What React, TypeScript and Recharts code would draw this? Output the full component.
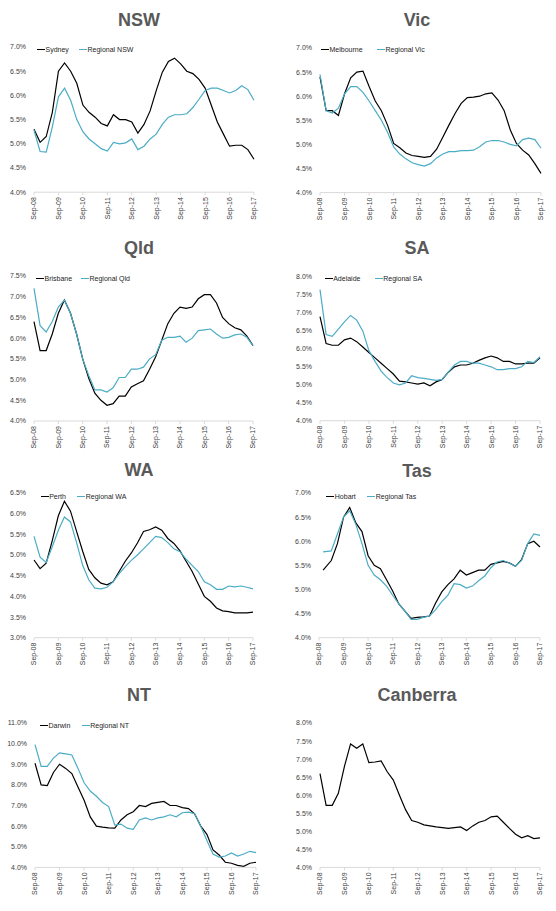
import React from 'react';
import { LineChart, Line, XAxis, YAxis, Legend } from 'recharts';

const quarterMonths = [0, 3, 6, 9, 12, 15, 18, 21, 24, 27, 30, 33, 36, 39, 42, 45, 48, 51, 54, 57, 60, 63, 66, 69, 72, 75, 78, 81, 84, 87, 90, 93, 96, 99, 102, 105, 108];
const tasMonths = [2, 6, 9, 12, 15, 18, 21, 24, 27, 30, 33, 36, 39, 42, 45, 48, 51, 54, 57, 60, 63, 66, 69, 72, 75, 78, 81, 84, 87, 90, 93, 96, 99, 102, 105, 108];
const yearTickMonths = [0, 12, 24, 36, 48, 60, 72, 84, 96, 108];
const yearTickLabels = ['Sep-08', 'Sep-09', 'Sep-10', 'Sep-11', 'Sep-12', 'Sep-13', 'Sep-14', 'Sep-15', 'Sep-16', 'Sep-17'];

const sydney = [5.3, 5.03, 5.15, 5.65, 6.5, 6.67, 6.5, 6.25, 5.8, 5.65, 5.55, 5.42, 5.37, 5.6, 5.5, 5.5, 5.45, 5.22, 5.4, 5.68, 6.1, 6.48, 6.7, 6.77, 6.65, 6.5, 6.45, 6.33, 6.15, 5.8, 5.45, 5.2, 4.95, 4.97, 4.97, 4.88, 4.68];
const regionalNSW = [5.28, 4.84, 4.83, 5.35, 5.97, 6.15, 5.9, 5.5, 5.25, 5.1, 5.0, 4.9, 4.85, 5.03, 5.0, 5.02, 5.1, 4.88, 4.95, 5.1, 5.2, 5.4, 5.55, 5.6, 5.6, 5.62, 5.75, 5.92, 6.1, 6.15, 6.15, 6.1, 6.05, 6.1, 6.2, 6.12, 5.9];

const melbourne = [6.4, 5.7, 5.7, 5.6, 6.05, 6.38, 6.5, 6.52, 6.2, 5.9, 5.7, 5.4, 5.02, 4.93, 4.82, 4.77, 4.75, 4.73, 4.75, 4.9, 5.15, 5.4, 5.64, 5.85, 5.97, 5.98, 6.0, 6.05, 6.07, 5.92, 5.7, 5.3, 5.02, 4.88, 4.78, 4.6, 4.4];
const regionalVic = [6.45, 5.7, 5.65, 5.75, 6.05, 6.2, 6.2, 6.08, 5.9, 5.7, 5.5, 5.25, 4.95, 4.8, 4.7, 4.62, 4.58, 4.55, 4.6, 4.72, 4.8, 4.85, 4.85, 4.87, 4.87, 4.88, 4.95, 5.05, 5.08, 5.08, 5.05, 5.0, 4.97, 5.1, 5.13, 5.1, 4.92];

const brisbane = [6.4, 5.7, 5.7, 6.1, 6.6, 6.92, 6.6, 6.1, 5.5, 5.03, 4.67, 4.5, 4.38, 4.42, 4.6, 4.6, 4.82, 4.9, 4.97, 5.25, 5.55, 5.95, 6.35, 6.6, 6.75, 6.72, 6.75, 6.95, 7.05, 7.05, 6.85, 6.5, 6.35, 6.25, 6.2, 6.05, 5.82];
const regionalQld = [7.2, 6.3, 6.15, 6.4, 6.75, 6.92, 6.6, 6.1, 5.5, 5.1, 4.75, 4.75, 4.7, 4.8, 5.05, 5.05, 5.25, 5.25, 5.3, 5.5, 5.6, 5.95, 6.02, 6.02, 6.05, 5.9, 6.0, 6.18, 6.2, 6.22, 6.1, 6.0, 6.02, 6.08, 6.1, 6.02, 5.82];

const adelaide = [6.9, 6.15, 6.1, 6.1, 6.25, 6.3, 6.2, 6.05, 5.9, 5.75, 5.6, 5.45, 5.3, 5.1, 5.08, 5.05, 5.02, 5.05, 4.97, 5.08, 5.15, 5.35, 5.5, 5.55, 5.55, 5.6, 5.68, 5.75, 5.8, 5.75, 5.65, 5.65, 5.58, 5.58, 5.6, 5.6, 5.75];
const regionalSA = [7.65, 6.4, 6.35, 6.55, 6.75, 6.93, 6.8, 6.5, 5.95, 5.65, 5.38, 5.2, 5.05, 5.0, 5.05, 5.25, 5.2, 5.18, 5.15, 5.12, 5.15, 5.35, 5.55, 5.65, 5.65, 5.6, 5.6, 5.55, 5.5, 5.42, 5.42, 5.45, 5.45, 5.5, 5.65, 5.62, 5.78];

const perth = [4.88, 4.67, 4.8, 5.35, 5.95, 6.3, 6.06, 5.57, 5.09, 4.65, 4.45, 4.32, 4.28, 4.35, 4.6, 4.85, 5.05, 5.29, 5.57, 5.61, 5.68, 5.6, 5.4, 5.28, 5.1, 4.85, 4.6, 4.3, 4.0, 3.88, 3.72, 3.65, 3.63, 3.6, 3.6, 3.6, 3.62];
const regionalWA = [5.45, 4.95, 4.82, 5.2, 5.6, 5.92, 5.8, 5.3, 4.75, 4.4, 4.2, 4.18, 4.22, 4.35, 4.55, 4.72, 4.87, 5.0, 5.15, 5.3, 5.45, 5.42, 5.3, 5.15, 5.08, 4.9, 4.75, 4.6, 4.35, 4.28, 4.17, 4.17, 4.25, 4.23, 4.25, 4.22, 4.18];

const hobart = [5.4, 5.6, 5.95, 6.5, 6.7, 6.38, 6.2, 5.7, 5.5, 5.43, 5.2, 4.97, 4.7, 4.55, 4.4, 4.42, 4.43, 4.45, 4.72, 4.95, 5.1, 5.22, 5.4, 5.3, 5.35, 5.4, 5.4, 5.52, 5.55, 5.58, 5.55, 5.48, 5.62, 5.95, 6.0, 5.88];
const regionalTas = [5.78, 5.8, 6.15, 6.5, 6.63, 6.35, 5.95, 5.5, 5.3, 5.2, 5.07, 4.88, 4.7, 4.55, 4.38, 4.38, 4.42, 4.45, 4.58, 4.75, 4.88, 5.12, 5.1, 5.03, 5.07, 5.18, 5.28, 5.45, 5.57, 5.6, 5.55, 5.48, 5.6, 5.95, 6.15, 6.12];

const darwin = [9.05, 8.0, 7.97, 8.6, 9.0, 8.8, 8.55, 7.9, 7.25, 6.45, 6.0, 5.95, 5.92, 5.9, 6.3, 6.55, 6.7, 7.0, 6.95, 7.1, 7.15, 7.2, 7.0, 7.0, 6.9, 6.85, 6.6, 6.0, 5.6, 4.85, 4.6, 4.25, 4.2, 4.1, 4.05, 4.2, 4.25];
const regionalNT = [9.95, 8.9, 8.9, 9.3, 9.55, 9.5, 9.45, 8.8, 8.1, 7.7, 7.45, 7.15, 6.95, 6.05, 6.1, 5.9, 5.85, 6.3, 6.4, 6.3, 6.4, 6.45, 6.55, 6.45, 6.65, 6.68, 6.6, 6.0, 5.3, 4.65, 4.5, 4.55, 4.7, 4.55, 4.65, 4.78, 4.72];

const canberra = [6.6, 5.72, 5.72, 6.05, 6.8, 7.42, 7.3, 7.42, 6.9, 6.92, 6.95, 6.65, 6.42, 6.0, 5.6, 5.3, 5.25, 5.18, 5.15, 5.12, 5.1, 5.08, 5.1, 5.12, 5.02, 5.15, 5.25, 5.3, 5.4, 5.42, 5.25, 5.08, 4.92, 4.82, 4.88, 4.8, 4.82];

const ticksHalf4to7 = [4.0, 4.5, 5.0, 5.5, 6.0, 6.5, 7.0];
const ticksHalf4to75 = [4.0, 4.5, 5.0, 5.5, 6.0, 6.5, 7.0, 7.5];
const ticksHalf4to8 = [4.0, 4.5, 5.0, 5.5, 6.0, 6.5, 7.0, 7.5, 8.0];
const ticksHalf3to65 = [3.0, 3.5, 4.0, 4.5, 5.0, 5.5, 6.0, 6.5];
const ticksOne4to11 = [4.0, 5.0, 6.0, 7.0, 8.0, 9.0, 10.0, 11.0];

const BLACK = '#000000';
const BLUE = '#4BACC6';
const FONT = '"Liberation Sans", Arial, sans-serif';

type Series = { name: string; values: number[]; color: string };
type PanelSpec = {
  title: string;
  left: number;
  titleY: number;
  plotTop: number;
  plotBottom: number;
  plotLeft: number;
  plotRight: number;
  months: number[];
  series: Series[];
  yTicks: number[];
  legendX?: number;
  legendY?: number;
  legendGap?: number;
};

const panels: PanelSpec[] = [
  { title: 'NSW', left: 0, titleY: 19.3, plotTop: 46.5, plotBottom: 191.7, plotLeft: 34, plotRight: 254, months: quarterMonths,
    series: [{ name: 'Sydney', values: sydney, color: BLACK }, { name: 'Regional NSW', values: regionalNSW, color: BLUE }],
    yTicks: ticksHalf4to7, legendX: 37, legendY: 49.3, legendGap: 42 },
  { title: 'Vic', left: 278, titleY: 20, plotTop: 47.7, plotBottom: 192.3, plotLeft: 320, plotRight: 541, months: quarterMonths,
    series: [{ name: 'Melbourne', values: melbourne, color: BLACK }, { name: 'Regional Vic', values: regionalVic, color: BLUE }],
    yTicks: ticksHalf4to7, legendX: 321, legendY: 50, legendGap: 56 },
  { title: 'Qld', left: 0, titleY: 247.7, plotTop: 276, plotBottom: 421, plotLeft: 34, plotRight: 253, months: quarterMonths,
    series: [{ name: 'Brisbane', values: brisbane, color: BLACK }, { name: 'Regional Qld', values: regionalQld, color: BLUE }],
    yTicks: ticksHalf4to75, legendX: 36, legendY: 278.3, legendGap: 45 },
  { title: 'SA', left: 278, titleY: 248, plotTop: 277.3, plotBottom: 421, plotLeft: 320, plotRight: 540, months: quarterMonths,
    series: [{ name: 'Adelaide', values: adelaide, color: BLACK }, { name: 'Regional SA', values: regionalSA, color: BLUE }],
    yTicks: ticksHalf4to8, legendX: 324.7, legendY: 278.3, legendGap: 50 },
  { title: 'WA', left: 0, titleY: 470, plotTop: 493.3, plotBottom: 638, plotLeft: 34, plotRight: 253, months: quarterMonths,
    series: [{ name: 'Perth', values: perth, color: BLACK }, { name: 'Regional WA', values: regionalWA, color: BLUE }],
    yTicks: ticksHalf3to65, legendX: 40.7, legendY: 496.7, legendGap: 36.6 },
  { title: 'Tas', left: 278, titleY: 471, plotTop: 493.3, plotBottom: 638, plotLeft: 319, plotRight: 540, months: tasMonths,
    series: [{ name: 'Hobart', values: hobart, color: BLACK }, { name: 'Regional Tas', values: regionalTas, color: BLUE }],
    yTicks: ticksHalf4to7, legendX: 326.3, legendY: 496.7, legendGap: 41 },
  { title: 'NT', left: 0, titleY: 695, plotTop: 723.3, plotBottom: 867.7, plotLeft: 35, plotRight: 256, months: quarterMonths,
    series: [{ name: 'Darwin', values: darwin, color: BLACK }, { name: 'Regional NT', values: regionalNT, color: BLUE }],
    yTicks: ticksOne4to11, legendX: 40, legendY: 725.7, legendGap: 41.7 },
  { title: 'Canberra', left: 278, titleY: 695, plotTop: 723.3, plotBottom: 867.7, plotLeft: 320, plotRight: 540, months: quarterMonths,
    series: [{ name: 'Canberra', values: canberra, color: BLACK }],
    yTicks: ticksHalf4to8 },
];

const RotTick = (props: any) => {
  const { x, y, payload } = props;
  const idx = yearTickMonths.indexOf(payload.value);
  return (
    <g transform={`translate(${x},${y})`}>
      <text transform="rotate(-90)" textAnchor="end" dy="0.35em" fontSize={7} fill="#404040" fontFamily={FONT}>
        {yearTickLabels[idx]}
      </text>
    </g>
  );
};

const makeLegend = (series: Series[], gap: number) => () => (
  <div style={{ position: 'relative', height: 10, fontSize: 7, fontFamily: FONT, color: '#262626' }}>
    {series.map((s, i) => (
      <span key={s.name} style={{ position: 'absolute', left: i * gap, top: 0, height: 10, display: 'flex', alignItems: 'center', whiteSpace: 'nowrap' }}>
        <span style={{ display: 'inline-block', width: 8, height: 0, borderTop: `1.2px solid ${s.color}`, marginRight: 0.5 }} />
        {s.name}
      </span>
    ))}
  </div>
);

function Panel({ p }: { p: PanelSpec }) {
  const marginTop = 6;
  const xAxisH = 32;
  const yW = p.plotLeft - p.left;
  const mRight = p.left + 278 - p.plotRight;
  const h = marginTop + (p.plotBottom - p.plotTop) + xAxisH;
  const chartTop = p.plotTop - marginTop;
  const rows = p.months.map((m, i) => {
    const r: any = { m };
    p.series.forEach((s, j) => { r['s' + j] = s.values[i]; });
    return r;
  });
  const yMin = p.yTicks[0];
  const yMax = p.yTicks[p.yTicks.length - 1];
  return (
    <>
      <div style={{ position: 'absolute', left: p.left, top: p.titleY - 8.8, width: 278, textAlign: 'center', fontFamily: FONT, fontWeight: 'bold', fontSize: 18, lineHeight: '18px', color: '#595959' }}>
        {p.title}
      </div>
      <div style={{ position: 'absolute', left: p.left, top: chartTop }}>
        <LineChart width={278} height={h} data={rows} margin={{ top: marginTop, right: mRight, bottom: 0, left: 0 }}>
          <XAxis type="number" dataKey="m" domain={[0, 108]} ticks={yearTickMonths} interval={0}
            tick={RotTick} tickLine={{ stroke: '#d9d9d9' }} axisLine={{ stroke: '#d9d9d9' }} tickSize={3} tickMargin={2} height={xAxisH} />
          <YAxis type="number" domain={[yMin, yMax]} ticks={p.yTicks} interval={0} axisLine={false} tickLine={false}
            tickSize={0} tickMargin={8} width={yW}
            tick={{ fontSize: 7, fill: '#404040', fontFamily: FONT }}
            tickFormatter={(v: number) => v.toFixed(1) + '%'} />
          {p.legendX !== undefined && (
            <Legend layout="horizontal" verticalAlign="middle" align="center"
              content={makeLegend(p.series, p.legendGap || 40)}
              wrapperStyle={{ left: (p.legendX as number) - p.left, top: (p.legendY as number) - chartTop - 5, width: 200, height: 10 }} />
          )}
          {p.series.map((s, j) => (
            <Line key={s.name} type="linear" dataKey={'s' + j} name={s.name} stroke={s.color} strokeWidth={1.2}
              dot={false} activeDot={false} isAnimationActive={false} />
          ))}
        </LineChart>
      </div>
    </>
  );
}

export default function App() {
  return (
    <div style={{ position: 'absolute', left: 0, top: 0, width: 556, height: 911, background: '#ffffff', fontFamily: FONT }}>
      {panels.map((p) => <Panel key={p.title} p={p} />)}
    </div>
  );
}
